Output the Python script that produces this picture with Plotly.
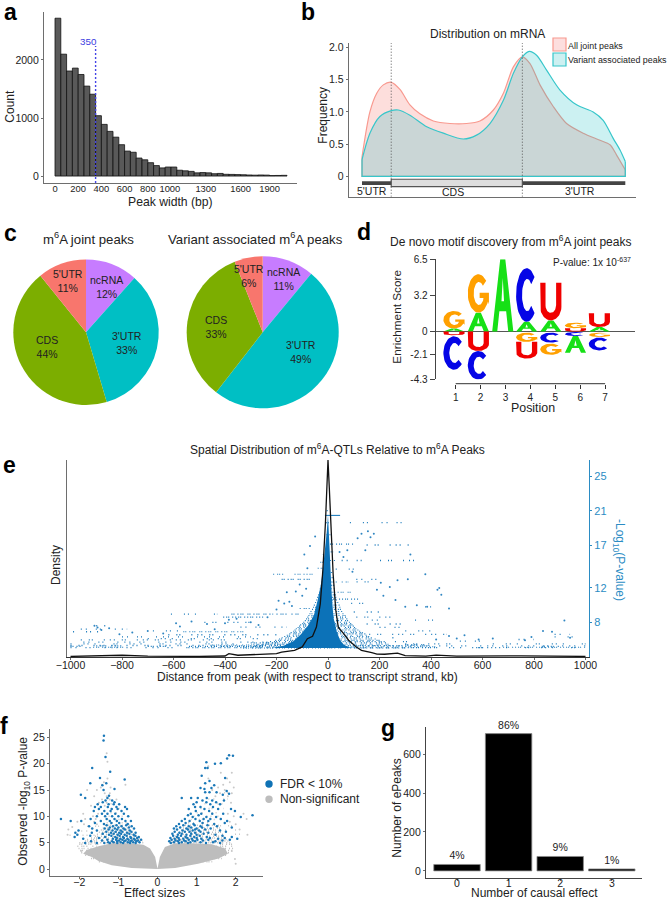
import numpy as np
import plotly.graph_objects as go

W, H = 669, 900
FONT = "Liberation Sans"
INK = "#222222"
AXC = "#6e6e6e"
BLUE = "#0c72b8"
BLUE_T = "#2b8cc4"

# ---------- panel a ----------
WIDTH_COUNTS = [2720, 2100, 1810, 1860, 1750, 1550, 1410, 1040, 890, 770, 670, 540, 430, 410, 310, 280,
                230, 180, 140, 155, 155, 100, 90, 80, 55, 60, 55, 40, 45, 30, 28, 25, 22, 18, 15, 18, 16, 8, 10, 12]
WIDTH_BIN = 50
WIDTH_TICKS = [0, 200, 400, 600, 800, 1000, 1300, 1600, 1900]
WIDTH_TICK_POS = [0, 200, 400, 600, 800, 990, 1300, 1600, 1850]
WIDTH_MARK = 350

# ---------- panel b ----------
ALL_X = [0, 3, 5.6, 8.1, 11.1, 14.4, 18.2, 22, 27.1, 33.4, 39.7, 44.8, 49.9, 53.7, 57.5, 60.9, 63.8, 67.6, 72.7, 77.7, 84, 90.4, 94.2, 96.7, 100]
ALL_Y = [0.3, 1.0, 1.29, 1.42, 1.46, 1.35, 1.11, 0.97, 0.86, 0.82, 0.82, 0.86, 1.03, 1.29, 1.70, 1.855, 1.75, 1.42, 1.08, 0.82, 0.67, 0.56, 0.49, 0.33, 0.1]
VAR_X = [0, 3, 6.8, 11.1, 13.8, 18.2, 24.6, 30.9, 38.5, 43.5, 48.6, 53.7, 57.5, 60.9, 63.5, 66.3, 70.1, 75.2, 81.5, 87.8, 91.6, 95.4, 98, 100]
VAR_Y = [0.26, 0.67, 0.93, 1.02, 1.03, 0.95, 0.77, 0.67, 0.58, 0.64, 0.82, 1.18, 1.6, 1.855, 1.94, 1.88, 1.65, 1.34, 1.11, 1.0, 0.87, 0.59, 0.41, 0.23]
CDS_START, CDS_END = 11.1, 60.9

# ---------- panel c ----------
PIE_LABELS = ["ncRNA", "3'UTR", "CDS", "5'UTR"]
PIE_COLORS = ["#C77CFF", "#00BFC4", "#7CAE00", "#F8766D"]
JOINT_SHARE = [11.6, 33.8, 43.8, 10.8]
VARIANT_SHARE = [11, 49.5, 33.5, 6]
JOINT_TEXT = ["12%", "33%", "44%", "11%"]
VARIANT_TEXT = ["11%", "49%", "33%", "6%"]

# ---------- panel d ----------
LOGO_POS = [0.93, 1.91, 2.89, 3.85, 4.82, 5.81, 6.77]
# letter, bottom, top at each position
LOGO_1 = [("A", 0, 0.27), ("G", 0.27, 1.85), ("U", -0.33, 0), ("C", -3.43, -0.43)]
LOGO_2 = [("A", 0, 1.7), ("G", 1.7, 5.15), ("U", -1.75, 0), ("C", -4.33, -1.75)]
LOGO_3 = [("A", 0, 6.5)]
LOGO_4 = [("A", 0, 0.87), ("C", 0.87, 5.7), ("G", -0.93, -0.1), ("U", -2.44, -0.93)]
LOGO_5 = [("A", 0, 1.0), ("U", 1.0, 4.4), ("C", -1.0, -0.1), ("G", -2.1, -1.1)]
LOGO_6 = [("U", 0, 0.3), ("G", 0.3, 0.8), ("C", -0.4, -0.05), ("A", -1.9, -0.4)]
LOGO_7 = [("A", 0, 0.4), ("U", 0.4, 1.65), ("G", -0.5, -0.1), ("C", -1.7, -0.55)]
LOGO_COLORS = {"A": "#16e016", "C": "#0505e6", "G": "#ffa000", "U": "#f00000"}
LOGO_TICKS = [6.5, 3.2, 0, -2.1, -4.3]

# ---------- panel e ----------
DENS_X = [-1000, -900, -800, -700, -600, -500, -400, -385, -350, -250, -200, -180, -130, -100, -80, -60, -45, -30, -20, -10, -5, 0,
          5, 10, 20, 30, 40, 60, 80, 110, 130, 170, 190, 220, 270, 300, 380, 420, 500, 750, 1000]
DENS_Y = [0.3, 0.6, 0.9, 0.4, 0.3, 0.3, 0.5, 1.7, 0.9, 1.5, 1.7, 2.5, 3.4, 5.1, 9.3, 10.5, 15.2, 27, 44, 68, 86, 100,
          86, 68, 42, 24, 15, 12, 8.5, 5.1, 3.4, 2.2, 1.5, 1.4, 2, 0.7, 0.4, 1, 0.4, 0.6, 0.3]
# solid core of the QTL cloud: outline as (kb, -log10 P)
CORE_X = [-215, -170, -135, -105, -78, -55, -40, -27, -19, -11, -5, 0, 3, 7, 10, 14, 21, 33, 47, 62, 82, 100]
CORE_Y = [5.0, 5.3, 5.8, 6.6, 7.6, 8.8, 10.6, 12.5, 14.4, 16.5, 18.5, 20.5, 18.5, 16, 14, 11.4, 8.6, 7, 5.9, 5.4, 5.1, 5.0]
# stippled shoulder next to the core: -log10 P, far edge on the left, far edge on the right
E_SHOULDER_V = [5.0, 5.15, 5.3, 5.45, 5.6, 5.75, 5.9, 6.05, 6.2, 6.35, 6.5, 6.65, 6.8, 6.95, 7.1, 7.25, 7.4, 7.55, 7.7, 7.85,
                8.0, 8.2, 8.4, 8.6, 8.8, 9.0, 9.25, 9.5, 9.75, 10.0, 10.3, 10.6, 10.9, 11.2, 11.5, 11.9, 12.3, 12.7, 13.2, 13.8]
E_SHOULDER_L = [-330, -300, -280, -255, -240, -225, -205, -190, -180, -170, -160, -150, -145, -135, -130, -125, -118, -112, -108, -100,
                -96, -90, -85, -80, -76, -72, -68, -62, -58, -55, -50, -46, -42, -38, -35, -32, -28, -25, -22, -20]
E_SHOULDER_R = [300, 290, 240, 235, 225, 220, 200, 185, 170, 160, 150, 145, 135, 125, 118, 110, 105, 100, 95, 90,
                85, 78, 75, 70, 68, 60, 55, 50, 48, 45, 40, 35, 32, 30, 28, 26, 24, 22, 18, 16]
# rows of closely spaced hits: -log10 P, from kb, to kb
E_ROWS_TIGHT = [(5.1, -912, -795), (5.05, -550, -180), (5.25, -420, -180), (5.45, -290, -150),
                (5.2, -1000, -960), (5.25, -900, -800), (5.2, -700, -620), (5.2, -540, -250), (5.35, -450, -250), (5.6, -300, -200),
                (8.95, -375, -213), (8.95, -200, -109), (8.6, -407, -252), (6.9, -562, -316), (13.6, -213, -160), (13.6, -130, -58), (13.0, -180, -58),
                (9.6, -110, -60), (14.3, -40, -15), (15.0, -30, -10), (15.9, -20, -5),
                (10.7, 8, 118), (11.5, 14, 92), (12.7, -5, 79), (15.2, -12, 30), (17.1, 8, 98),
                (16.2, -5, 20), (18.2, -6, 12), (19.6, -8, 12), (21, -5, 8), (5.05, 330, 420), (5.05, 100, 330), (5.25, 100, 290),
                (5.15, 300, 420), (5.4, 300, 380), (5.05, 560, 640), (5.1, 680, 1000), (5.2, 830, 900), (5.3, 250, 400)]
E_ROWS_LOOSE = [(5.05, -1000, -560), (5.3, -1000, -440), (5.5, -1000, -300), (5.7, -950, -220), (5.95, -960, -400), (6.1, -700, -250),
                (6.3, -800, -300), (6.55, -620, -200), (6.9, -990, -880), (7.2, -960, -780), (7.6, -900, -860), (7.0, -680, -560),
                (7.45, -340, -160), (8.0, -480, -300), (8.95, -610, -430), (15.2, 53, 150), (15.2, 202, 357), (19.6, 85, 170),
                (19.6, 208, 299), (17.0, 150, 320), (14.2, 30, 110), (13.0, 110, 195), (12.7, 111, 195),
                (5.05, 420, 1000), (5.25, 300, 1000), (5.5, 300, 480), (5.5, 640, 1000), (5.8, 512, 590), (5.75, 260, 330), (6.2, 250, 300),
                (6.0, 740, 800), (6.6, 160, 460), (7.0, 300, 400), (7.4, 200, 330), (7.8, 150, 300), (8.25, 338, 422), (8.25, 170, 200),
                (8.6, 110, 250), (9.2, 100, 200), (9.8, 377, 402), (10.2, 90, 160), (6.3, 880, 960), (6.6, 880, 940)]
E_SOLID = (20.45, -12, 47)
E_LONE_X = [-907, -895, -880, -850, -810, -760, -700, -640, -590, -575, -530, -470, -440, -400, -385, -355, -300, -270, -235, -200, -192, -170, -160, -150, -140,
            -125, -110, -92, -80, -100, -85, -70, -50,
            45, 60, 75, 95, 115, 130, 145, 155, 165, 178, 190, 205, 215, 240, 262, 270, 300, 310, 320, 345, 378, 385, 425, 432, 440, 470,
            420, 470, 500, 530, 585, 640, 765, 790, 835, 870, 918, 940]
E_LONE_Y = [7.6, 7.4, 7.1, 7.3, 6.6, 6.8, 7.0, 6.7, 7.9, 7.5, 8.1, 7.8, 7.2, 7.9, 8.3, 8.4, 8.0, 7.7, 8.6, 9.5, 10.5, 10.2, 11.5, 10.4, 9.9,
            11.6, 12.4, 15.9, 14.3, 11.1, 11.9, 16.9, 18.0,
            16.2, 15.6, 16.4, 13.9, 17.8, 18.3, 16.4, 18.6, 17.9, 18.3, 11.8, 12.6, 11.1, 12.1, 10.6, 12.9, 9.8, 13.0, 15.9, 10.0, 13.6, 9.8, 11.8, 12.0, 11.2, 9.6,
            6.0, 6.4, 6.1, 6.5, 6.0, 6.1, 5.9, 6.3, 7.0, 6.9, 8.2, 6.2]

# ---------- panel f ----------
GREY_CORE_X = [0, -0.06, -0.19, -0.36, -0.74, -1.17, -1.51, -1.81, -1.9, -1.68, -1.51, -1.17, -0.66, 0, 0.45, 1.04, 1.56, 1.8, 1.73, 1.39, 0.87, 0.45, 0.19, 0.06, 0]
GREY_CORE_Y = [0.05, 2.3, 3.9, 4.6, 4.9, 4.9, 4.3, 3.6, 2.9, 2.3, 1.5, 0.7, 0.2, 0.0, 0.2, 1.0, 2.0, 2.9, 3.9, 4.7, 4.9, 4.9, 4.2, 2.3, 0.05]
GREY_ROWS_TIGHT = [(5.0, -2.0, -0.35), (5.3, -1.85, -0.38), (5.6, -1.8, -0.4), (5.9, -1.7, -0.44), (6.2, -1.6, -0.5), (6.6, -1.55, -0.55), (7.0, -1.5, -0.6),
                   (7.4, -1.45, -0.62), (7.8, -1.4, -0.66), (8.3, -1.35, -0.7),
                   (4.7, -2.0, -1.5), (4.3, -2.05, -1.55), (3.9, -2.02, -1.65), (3.5, -1.98, -1.75), (3.1, -1.95, -1.8), (2.6, -1.85, -1.65), (2.0, -1.7, -1.45), (1.4, -1.5, -1.2),
                   (5.0, 0.3, 1.9), (5.3, 0.33, 1.85), (5.6, 0.36, 1.8), (5.9, 0.4, 1.75), (6.2, 0.45, 1.7), (6.6, 0.5, 1.65), (7.0, 0.55, 1.65),
                   (7.4, 0.6, 1.6), (7.8, 0.65, 1.6), (8.3, 0.7, 1.6),
                   (4.7, 1.6, 2.0), (4.3, 1.5, 1.95), (3.9, 1.6, 1.95), (3.5, 1.65, 1.9), (3.1, 1.7, 1.85), (2.6, 1.6, 1.8), (2.0, 1.4, 1.65), (1.4, 1.15, 1.4)]
GREY_ROWS_LOOSE = [(8.8, -1.3, -0.72), (9.4, -1.28, -0.8), (10.0, -1.25, -0.82), (10.7, -1.2, -0.88), (11.5, -1.2, -0.95), (12.4, -1.2, -1.0),
                   (8.8, 0.78, 1.6), (9.4, 0.85, 1.6), (10.0, 0.92, 1.6), (10.7, 1.0, 1.65), (11.5, 1.1, 1.7), (12.4, 1.2, 1.75), (13.3, 1.3, 1.8), (14.5, 1.5, 1.85),
                   (6.4, -2.25, -1.6), (7.2, -1.95, -1.5), (8.1, -1.8, -1.4), (6.6, 1.65, 2.2), (7.4, 1.6, 2.05), (8.2, 1.6, 1.95)]
FDR_ROWS = [(25.3, [-1.37]), (24.4, [-1.38]), (21.3, [-1.33]), (19.2, [-1.67, 1.22, 1.28]), (18.5, [-1.21]), (17.3, [-1.47, 1.73]), (17.7, [1.13]), (17.0, [-0.84]),
            (21.6, [1.83]), (21.5, [1.93]), (21.0, [1.78]), (20.3, [1.25]), (20.1, [1.62]), (20.0, [1.47]),
            (16.7, [1.33]), (16.3, [-1.72, -1.31, 1.22]), (15.9, [-1.41, 1.45]), (15.4, [1.1, 1.38]), (15.2, [-1.1, 1.2]), (15.0, [-1.38]),
            (14.6, [1.22, 1.33, 1.51]), (14.8, [1.77]), (14.3, [1.83]), (14.1, [1.67, -1.96]), (13.9, [-1.24]), (13.5, [-1.85, -1.28, 0.62, 0.86, 1.03, 1.26]),
            (13.0, [-1.33, -1.16, 1.15, 1.4, 1.7]), (12.7, [-1.4, -1.1, 1.0, 1.5, 1.25]), (12.3, [-1.53, -1.25, -1.12, -0.98, 0.92, 1.35, 1.6]),
            (11.8, [-1.6, -1.45, -1.27, -1.05, -0.83, 1.1, 1.42, 0.96]), (11.4, [-1.5, -1.17, -1.02, -0.78, 0.8, 1.2, 1.55, 1.88]), (11.0, [-1.63, -1.36, -1.2, -0.92, 1.98, 0.98, 1.32]),
            (10.5, [-1.42, -1.28, -1.08, -0.86, 0.85, 1.12, 1.4, 1.68]), (10.2, [2.43, 0.78, 1.05]), (9.9, [2.13, 0.9, 1.25, 1.5]),
            (10.0, [-1.55, -1.34, -1.16, -1.0, -0.75]), (9.5, [-2.47, -1.71, -1.3, -1.1, -0.91, 0.7, 0.97, 1.18, 1.35, 1.62]),
            (9.1, [-2.22, -1.95, -1.45, -1.22, -1.04, -0.82, -0.68, 0.62, 0.82, 1.08, 1.3, 1.78]),
            (8.75, [-1.6, -1.18, -0.98, 0.72, 1.15, 1.72]), (8.55, [-1.37, -0.76, 0.55, 0.92, 1.45]),
            (8.3, [-1.3, -1.05, -0.8, 0.66, 0.95, 1.28]), (8.1, [-1.75, -1.14, -0.92, -0.66, 0.48, 0.8, 1.1, 1.52]),
            (7.9, [-1.22, -1.0, -0.73, 0.58, 0.86, 1.14, 1.9]), (7.7, [-1.67, -1.35, -1.09, -0.87, -0.6, 0.42, 0.74, 1.0, 1.36]),
            (7.5, [-1.25, -1.03, -0.83, 0.5, 0.78, 0.96, 1.22]), (7.3, [-2.02, -1.55, -1.15, -0.94, -0.71, 0.64, 0.9, 1.06, 1.6]),
            (7.1, [-1.31, -1.07, -0.9, -0.67, 0.44, 0.7, 0.82, 1.1, 1.75]), (6.9, [-2.1, -1.68, -1.19, -0.98, -0.78, -0.56, 0.56, 0.96, 1.3]),
            (6.7, [-1.4, -1.12, -0.93, -0.72, 0.38, 0.62, 0.86, 1.18]), (6.5, [-2.05, -1.24, -1.02, -0.84, -0.61, 0.52, 0.74, 1.0, 1.48]),
            (6.3, [-1.72, -1.18, -0.97, -0.79, -0.57, 0.4, 0.6, 0.84, 1.08, 1.66]), (6.1, [-2.12, -1.34, -1.08, -0.88, -0.69, -0.48, 0.5, 0.72, 0.94, 1.26, 1.9]),
            (5.9, [-1.5, -1.04, -0.86, -0.68, -0.52, 0.33, 0.54, 0.76, 1.0, 1.34, 1.72]), (5.75, [-1.9, -1.14, -0.95, -0.77, -0.6, 0.44, 0.66, 0.88, 1.12, 1.55, 2.04]),
            (5.55, [-1.28, -1.06, -0.9, -0.74, -0.58, -0.42, 0.36, 0.56, 0.8, 1.02, 1.3, 1.85]), (5.4, [-1.42, -0.98, -0.82, -0.66, -0.5, 0.46, 0.68, 0.9, 1.16, 1.66]),
            (5.25, [-1.7, -1.16, -1.03, -0.85, -0.69, -0.54, 0.3, 0.52, 0.72, 0.96, 1.48]), (5.1, [-1.26, -1.12, -0.94, -0.76, -0.62, -0.46, 0.42, 0.62, 0.84, 1.1, 1.42]),
            (4.95, [-1.85, -1.55, -1.36, -1.22, -1.03, -0.88, -0.7, -0.56, 0.34, 0.55, 0.78, 1.24, 1.6])]
NS_ROWS = [(22.0, [-1.3]), (20.4, [-1.28]), (19.5, [1.3]), (18.3, [1.62, 1.9]), (17.2, [1.78, 1.3, -1.28]), (16.5, [1.85, -1.37]), (16.0, [1.68, -1.42, -0.82]),
           (15.5, [1.95, 1.55, -1.2, -1.45]), (15.0, [1.72, -1.8, -1.55, 1.4]), (14.4, [-1.22, 1.9, 1.6, -1.35]), (13.8, [1.48, 1.8, -1.3, -1.62]),
           (13.2, [-1.42, -1.22, -1.05]), (12.6, [-1.5, -1.3, 1.88]), (12.0, [-1.7, -1.35]),
           (10.5, [-1.9, -1.52, 1.8, 2.2]), (10.0, [-1.65, 1.95]), (9.5, [-1.85, -1.58, 2.28]), (9.0, [-2.05, -1.62, 1.85]), (8.5, [-1.88, -1.55, 2.0]),
           (8.0, [-2.18]), (7.5, [-2.28, 2.1]), (6.5, [-2.3, 2.3]), (3.4, [-1.95, 1.9]), (1.0, [2.0]), (1.9, [1.98])]

# ---------- panel g ----------
CAUSAL = [0, 1, 2, 3]
CAUSAL_PEAKS = [33, 705, 74, 10]
CAUSAL_TEXT = ["4%", "86%", "9%", "1%"]

TIGHT_DASHES = ["1px,2px,1px,1px,1px,3px,1px,2px", "1px,1px,1px,3px,1px,2px,1px,1px,1px,4px", "1px,3px,1px,1px,1px,2px,1px,5px"]
LOOSE_DASHES = ["1px,4px,1px,9px,1px,3px,1px,14px,1px,6px", "1px,7px,1px,2px,1px,11px,1px,5px,1px,3px", "1px,12px,1px,3px,1px,6px,1px,18px,1px,2px"]


def X(p):
    return p / W


def Y(p):
    return 1 - p / H


def px_range(p_lo, p_hi, p_ref, v_ref, scale):
    return [v_ref + (p_lo - p_ref) / scale, v_ref + (p_hi - p_ref) / scale]


fig = go.Figure()
tickfont = dict(family=FONT, size=10.5, color=INK)


def base_axis(**kw):
    d = dict(showgrid=False, zeroline=False, showline=True, linecolor=AXC, linewidth=1.2, ticks="outside",
             ticklen=2, tickcolor=AXC, tickfont=tickfont, fixedrange=True, automargin=False, tickangle=0)
    d.update(kw)
    return d


layout = {}
annots = []
shapes = []


def text(x, y, s, size=12, color=INK, angle=0, xanchor="center", bold=False):
    annots.append(dict(x=X(x), y=Y(y), xref="paper", yref="paper", text=("<b>%s</b>" % s) if bold else s, showarrow=False,
                       font=dict(family=FONT, size=size, color=color), textangle=angle, xanchor=xanchor, yanchor="middle",
                       borderpad=0))


def segs(rows):
    sx, sy = [], []
    for v, a, b in rows:
        sx += [a, b, None]
        sy += [v, v, None]
    return sx, sy


def stipple(rows, dashes, color, width, opacity, xa, ya):
    for k, dash in enumerate(dashes):
        sx, sy = segs(rows[k::len(dashes)])
        fig.add_trace(go.Scatter(x=sx, y=sy, mode="lines", line=dict(color=color, width=width, dash=dash), opacity=opacity, xaxis=xa, yaxis=ya))


# panel a
layout["xaxis"] = base_axis(domain=[X(44), X(297)], range=px_range(44, 297, 55, 0, 0.116), anchor="y",
                            tickvals=WIDTH_TICK_POS, ticktext=[str(v) for v in WIDTH_TICKS], ticks="", ticklabelstandoff=-3,
                            tickfont=dict(family=FONT, size=9.4, color=INK))
layout["yaxis"] = base_axis(domain=[Y(183), Y(12)], range=[-120, 2827], anchor="x", tickvals=[0, 1000, 2000])
fig.add_trace(go.Bar(x=[i * WIDTH_BIN for i in range(len(WIDTH_COUNTS))], y=WIDTH_COUNTS, width=WIDTH_BIN, offset=0,
                     marker=dict(color="#595959", line=dict(color="#111111", width=0.8)), xaxis="x", yaxis="y"))
fig.add_trace(go.Scatter(x=[WIDTH_MARK, WIDTH_MARK], y=[-120, 2240], mode="lines", line=dict(color="#4444e6", width=1.4, dash="2px,2px"), xaxis="x", yaxis="y"))
text(88.5, 41, str(WIDTH_MARK), 9.8, color="#3a3ae0")
text(170.7, 202, "Peak width (bp)", 12.2)
text(10, 106.7, "Count", 12, angle=-90)

# panel b
xb = px_range(348.7, 635.7, 362, 0, 2.633)
layout["xaxis2"] = base_axis(domain=[X(348.7), X(635.7)], range=xb, anchor="y2", showticklabels=False, ticks="", tickvals=[])
layout["yaxis2"] = base_axis(domain=[Y(196.7), Y(43)], range=[-0.316, 2.07], anchor="x2", tickvals=[0, 0.5, 1, 1.5, 2],
                             ticktext=["0", "0.5", "1.0", "1.5", "2.0"])
for xs, ys, fc, lc in [(ALL_X, ALL_Y, "rgba(248,118,109,0.24)", "#f8998f"), (VAR_X, VAR_Y, "rgba(0,186,190,0.20)", "#37c6ca")]:
    fig.add_trace(go.Scatter(x=xs, y=ys, mode="lines", line=dict(color=lc, width=1.2, shape="spline", smoothing=0.8), fill="tozeroy", fillcolor=fc, xaxis="x2", yaxis="y2"))
    fig.add_trace(go.Scatter(x=[xs[0], xs[0], xs[-1], xs[-1]], y=[ys[0], 0, 0, ys[-1]], mode="lines", line=dict(color=lc, width=1.2), xaxis="x2", yaxis="y2"))
for v in (CDS_START, CDS_END):
    shapes.append(dict(type="line", xref="x2", yref="y2", x0=v, x1=v, y0=-0.316, y1=2.07, line=dict(color="#555555", width=1, dash="1px,2px")))
shapes.append(dict(type="line", xref="x2", yref="y2", x0=0, x1=100, y0=-0.105, y1=-0.105, line=dict(color="#444444", width=3.6)))
shapes.append(dict(type="rect", xref="x2", yref="y2", x0=CDS_START, x1=CDS_END, y0=-0.16, y1=-0.045, fillcolor="#dedede", line=dict(color="#555555", width=1.2)))
text(487.7, 34, "Distribution on mRNA", 12)
text(322.7, 115, "Frequency", 12, angle=-90)
text(371.7, 191, "5'UTR", 10.5)
text(453, 192, "CDS", 10.5)
text(580, 191, "3'UTR", 10.5)
shapes.append(dict(type="rect", xref="paper", yref="paper", x0=X(553), x1=X(566), y0=Y(51), y1=Y(38), fillcolor="#fddede", line=dict(color="#f8998f", width=1.2)))
shapes.append(dict(type="rect", xref="paper", yref="paper", x0=X(553), x1=X(566), y0=Y(66), y1=Y(53), fillcolor="#cdf0f1", line=dict(color="#37c6ca", width=1.2)))
text(567.2, 45.7, "All joint peaks", 8.9, xanchor="left")
text(567.2, 60, "Variant associated peaks", 8.9, xanchor="left")

# panel c
for share, cx, r in [(JOINT_SHARE, 86, 72.7), (VARIANT_SHARE, 262.7, 76)]:
    fig.add_trace(go.Pie(values=share, labels=PIE_LABELS, sort=False, direction="clockwise", rotation=0, textinfo="none", textposition="none",
                         marker=dict(colors=PIE_COLORS, line=dict(width=0)),
                         domain=dict(x=[X(cx - r), X(cx + r)], y=[Y(332.3 + r), Y(332.3 - r)]), showlegend=False))
for lbl, pct, x, y in zip(PIE_LABELS, JOINT_TEXT, [106.7, 126.7, 46.7, 67.7], [286.5, 342.5, 346.5, 280.5]):
    text(x, y, "%s<br>%s" % (lbl, pct), 10.5)
for lbl, pct, x, y in zip(PIE_LABELS, VARIANT_TEXT, [283.3, 301, 216, 249], [279.5, 352.5, 326.5, 275.5]):
    text(x, y, "%s<br>%s" % (lbl, pct), 10.5)
text(88.7, 238, "m<sup>6</sup>A joint peaks", 13.2)
text(255, 238, "Variant associated m<sup>6</sup>A peaks", 13.2)


# panel d : letter outlines in a unit box, placed through the axes
def arc(cx, cy, rx, ry, a0, a1, n=40):
    t = np.radians(np.linspace(a0, a1, n))
    return list(cx + rx * np.cos(t)), list(cy + ry * np.sin(t))


def glyph(ch):
    if ch == "A":
        return ([0, .38, .62, 1, .76, .66, .34, .44, .56, .5, .44, .34, .24, 0],
                [0, 1, 1, 0, 0, .28, .28, .42, .42, .74, .42, .28, 0, 0])
    if ch == "C":
        ox, oy = arc(.5, .5, .5, .5, 42, 318)
        ix, iy = arc(.53, .5, .25, .3, 318, 42)
        return ox + ix + [ox[0]], oy + iy + [oy[0]]
    if ch == "G":
        ox, oy = arc(.5, .5, .5, .5, 42, 335)
        ix, iy = arc(.53, .5, .25, .3, 320, 42)
        return ox + [1, 1, .56, .56, .74] + ix + [ox[0]], oy + [.22, .52, .52, .38, .38] + iy + [oy[0]]
    ox, oy = arc(.5, .36, .5, .36, 180, 360)
    ix, iy = arc(.5, .4, .25, .2, 360, 180)
    return [0] + ox + [1, .75] + ix + [.25, 0], [1] + oy + [1, 1] + iy + [1, 1]


layout["xaxis3"] = base_axis(domain=[X(435.7), X(635)], range=px_range(435.7, 635, 455.7, 1, 24.9), anchor="free", position=Y(383.7),
                             showline=False, tickvals=[1, 2, 3, 4, 5, 6, 7], ticklen=4, tickcolor="#333333", tickfont=dict(family=FONT, size=10, color=INK))
layout["yaxis3"] = base_axis(domain=[Y(379.3), Y(259.3)], range=[-4.3, 6.5], anchor="x3", tickvals=LOGO_TICKS,
                             ticktext=["6.5", "3.2", "0", "-2.1", "-4.3"], zeroline=True, zerolinecolor="#555555", zerolinewidth=1,
                             ticklen=5, linecolor="#444444", tickcolor="#444444", tickfont=dict(family=FONT, size=10, color=INK))
stacks = [LOGO_1, LOGO_2, LOGO_3, LOGO_4, LOGO_5, LOGO_6, LOGO_7]
for ch in "ACGU":
    gx, gy = [], []
    ux, uy = glyph(ch)
    for pos, st in zip(LOGO_POS, stacks):
        for c, lo, hi in st:
            if c == ch:
                gx += [pos - 0.425 + 0.85 * v for v in ux] + [None]
                gy += [lo + (hi - lo) * v for v in uy] + [None]
    fig.add_trace(go.Scatter(x=gx, y=gy, mode="lines", line=dict(width=0, color=LOGO_COLORS[ch]), fill="toself", fillcolor=LOGO_COLORS[ch], xaxis="x3", yaxis="y3"))
shapes.append(dict(type="line", xref="x3", yref="paper", x0=1, x1=7, y0=Y(383.7), y1=Y(383.7), line=dict(color="#333333", width=1)))
text(510, 241, "De novo motif discovery from m<sup>6</sup>A joint peaks", 12)
text(592, 262, "P-value: 1x 10<sup>-637</sup>", 10)
text(397, 316.7, "Enrichment Score", 11.8, angle=-90)
text(532.7, 408, "Position", 12.4)

# panel e
xe = px_range(67, 589, 328, 0, 0.2575)
layout["xaxis4"] = base_axis(domain=[X(67), X(589)], range=xe, anchor="y4", tickvals=list(range(-1000, 1001, 200)), linecolor="#333333", ticklabelstandoff=-4)
layout["yaxis4"] = base_axis(domain=[Y(657), Y(460)], range=[3.96, 26.9], anchor="x4", side="right", tickvals=[8, 12, 17, 21, 25],
                             linecolor=BLUE_T, tickcolor=BLUE_T, tickfont=dict(family=FONT, size=11, color=BLUE_T))
layout["yaxis5"] = base_axis(domain=[Y(657), Y(460)], range=[0, 100], anchor="x4", overlaying="y4", side="left", showticklabels=False, ticks="", tickvals=[])

shoulder = [(v, a, 0) for v, a in zip(E_SHOULDER_V, E_SHOULDER_L)] + [(v, b, 0) for v, b in zip(E_SHOULDER_V, E_SHOULDER_R)]
stipple(shoulder, TIGHT_DASHES, BLUE, 1.1, 0.95, "x4", "y4")
stipple(E_ROWS_TIGHT, TIGHT_DASHES, BLUE, 1.1, 0.95, "x4", "y4")
stipple(E_ROWS_LOOSE, LOOSE_DASHES, BLUE, 1.3, 0.95, "x4", "y4")
fig.add_trace(go.Scatter(x=CORE_X, y=CORE_Y, mode="lines", line=dict(width=0, color=BLUE), fill="toself", fillcolor=BLUE, xaxis="x4", yaxis="y4"))
fig.add_trace(go.Scatter(x=[E_SOLID[1], E_SOLID[2]], y=[E_SOLID[0], E_SOLID[0]], mode="lines", line=dict(color=BLUE, width=1), xaxis="x4", yaxis="y4"))
fig.add_trace(go.Scatter(x=E_LONE_X, y=E_LONE_Y, mode="markers", marker=dict(color=BLUE, size=2, line=dict(width=0)), opacity=0.85, xaxis="x4", yaxis="y4"))
fig.add_trace(go.Scatter(x=DENS_X, y=DENS_Y, mode="lines", line=dict(color="#111111", width=1.3), xaxis="x4", yaxis="y5"))
text(337, 449, "Spatial Distribution of m<sup>6</sup>A-QTLs Relative to m<sup>6</sup>A Peaks", 12)
text(307, 677, "Distance from peak (with respect to transcript strand, kb)", 12)
text(56, 565, "Density", 12, angle=-90)
text(619, 560, "-Log<sub>10</sub>(P-value)", 12, color=BLUE_T, angle=90)

# panel f
layout["xaxis5"] = base_axis(domain=[X(50), X(263)], range=px_range(50, 263, 157.5, 0, 39.1), anchor="y6", tickvals=[-2, -1, 0, 1, 2], ticklabelstandoff=-6)
layout["yaxis6"] = base_axis(domain=[Y(876), Y(729)], range=[-1.33, 26.6], anchor="x5", tickvals=[0, 5, 10, 15, 20, 25])


def rows_xy(rows):
    rx, ry = [], []
    for v, xs in rows:
        rx += xs
        ry += [v] * len(xs)
    return rx, ry


stipple(GREY_ROWS_TIGHT, TIGHT_DASHES, "#c0c0c0", 1.5, 1, "x5", "y6")
stipple(GREY_ROWS_LOOSE, LOOSE_DASHES, "#c8c8c8", 1.5, 1, "x5", "y6")
nx, ny = rows_xy(NS_ROWS)
fig.add_trace(go.Scatter(x=nx, y=ny, mode="markers", marker=dict(color="#c9c9c9", size=2, line=dict(width=0)), xaxis="x5", yaxis="y6"))
fig.add_trace(go.Scatter(x=GREY_CORE_X, y=GREY_CORE_Y, mode="lines", line=dict(width=0, color="#bdbdbd"), fill="toself", fillcolor="#bdbdbd", xaxis="x5", yaxis="y6"))
bx, by = rows_xy(FDR_ROWS)
fig.add_trace(go.Scatter(x=bx, y=by, mode="markers", marker=dict(color="#1a78b8", size=2.5, line=dict(width=0)), xaxis="x5", yaxis="y6"))
text(154, 893, "Effect sizes", 12)
text(24, 801.7, "Observed -log<sub>10</sub> P-value", 12, angle=-90)
for cy, col in [(784, "#0f72b5"), (799.3, "#bdbdbd")]:
    shapes.append(dict(type="circle", xref="paper", yref="paper", x0=X(265.3), x1=X(272.7), y0=Y(cy + 3.7), y1=Y(cy - 3.7), fillcolor=col, line=dict(width=0)))
text(278.7, 783.5, "FDR &lt; 10%", 12, xanchor="left")
text(278.7, 799, "Non-significant", 12, xanchor="left")

# panel g
layout["xaxis6"] = base_axis(domain=[X(426), X(642)], range=px_range(426, 642, 457, 0, 51.6), anchor="y7", tickvals=CAUSAL, linecolor="#444444", ticklabelstandoff=-6)
layout["yaxis7"] = base_axis(domain=[Y(877.7), Y(727)], range=[-35, 739], anchor="x6", tickvals=[0, 200, 400, 600], linecolor="#444444")
fig.add_trace(go.Bar(x=CAUSAL, y=CAUSAL_PEAKS, width=0.9, marker=dict(color="#000000", line=dict(color="#8a8a8a", width=0.8)), text=CAUSAL_TEXT,
                     textposition="outside", textfont=dict(family=FONT, size=10.5, color=INK), cliponaxis=False, xaxis="x6", yaxis="y7"))
text(534, 893, "Number of causal effect", 12)
text(396.7, 808, "Number of ePeaks", 12, angle=-90)

# panel letters
for s, x, y in [("a", 10, 12.5), ("b", 308, 12.5), ("c", 10, 233), ("d", 364, 232), ("e", 9.4, 465), ("f", 3.5, 726), ("g", 388, 728)]:
    text(x, y, s, 23, color="#000000", bold=True)

fig.update_layout(width=W, height=H, margin=dict(l=0, r=0, t=0, b=0), autosize=False, paper_bgcolor="white", plot_bgcolor="rgba(0,0,0,0)",
                  showlegend=False, annotations=annots, shapes=shapes, font=dict(family=FONT, color=INK), hovermode=False, **layout)
fig.write_html("out.html", config={"displayModeBar": False},
               post_script="document.body.style.margin='0';document.body.style.overflow='hidden';")
